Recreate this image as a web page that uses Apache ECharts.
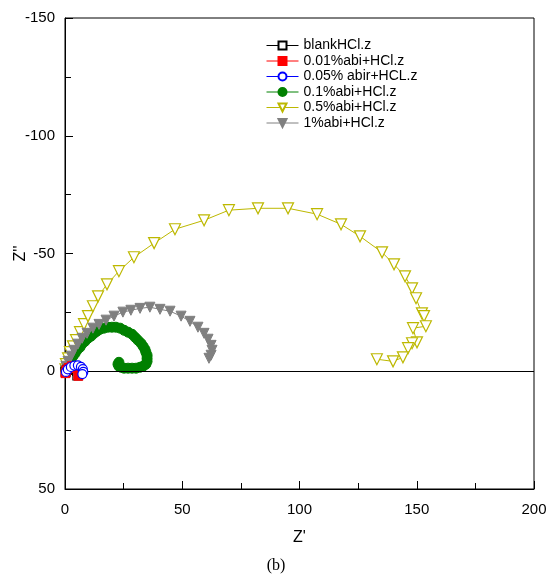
<!DOCTYPE html>
<html>
<head>
<meta charset="utf-8">
<script src="https://cdn.jsdelivr.net/npm/echarts@6/dist/echarts.min.js"></script>
<style>
  html, body { margin: 0; padding: 0; background: #fff; }
  #chart { width: 552px; height: 575px; }
</style>
</head>
<body>
<div id="chart"></div>
<script>
// Nyquist data, [Z', Z''] (Z'' negative = capacitive, drawn upward)
const blankHCl = [[0.3, 0.2], [1.0, -0.6], [2.0, -1.1], [3.2, -1.3], [4.3, -0.9], [5.2, -0.1], [5.6, 0.9], [5.3, 1.8]]
const abi001 = [[0.2, 0.8], [0.6, -0.4], [1.6, -1.4], [2.9, -2.1], [4.2, -2.2], [5.3, -1.5], [6.0, -0.4], [6.1, 0.8], [5.7, 1.9]]
const abi005 = [[0.4, 0.3], [1.2, -0.8], [2.5, -1.8], [4.0, -2.4], [5.5, -2.5], [6.8, -1.9], [7.6, -0.9], [7.8, 0.3], [7.4, 1.2]]
const abi01 = [
  [0.2, -0.8], [0.4, -1.7], [0.9, -2.5], [1.7, -3.8], [2.6, -5.1], [3.4, -6.4], [4.3, -7.6], [5.1, -8.9],
  [6.4, -10.2], [7.2, -11.5], [8.5, -12.7], [9.8, -14.0], [11.1, -14.9], [12.4, -16.1], [13.6, -17.0],
  [14.9, -17.8], [16.6, -18.3], [18.3, -18.7], [20.0, -18.7], [21.7, -18.7], [23.5, -18.3], [25.2, -17.4],
  [26.9, -16.6], [28.6, -15.7], [29.9, -14.4], [31.1, -13.2], [32.4, -11.9], [33.3, -10.6], [34.1, -9.3],
  [34.5, -8.1], [35.0, -6.8], [35.0, -5.5], [35.0, -4.2], [34.5, -3.0], [33.3, -2.1], [32.0, -1.7],
  [30.3, -1.3], [28.6, -1.3], [26.9, -1.3], [25.2, -1.3], [23.9, -1.7], [23.0, -2.1], [22.6, -3.0], [23.0, -3.8]
]
const abi05 = [
  [0.2, -0.8], [0.4, -3.0], [1.3, -5.5], [2.1, -8.1], [3.4, -10.6], [4.7, -13.2], [6.4, -16.6], [8.1, -20.0],
  [9.8, -23.4], [11.9, -27.6], [14.1, -31.8], [17.9, -36.9], [23.0, -42.5], [29.4, -48.4], [38.0, -54.4],
  [46.9, -60.3], [59.3, -64.1], [69.9, -68.4], [82.3, -69.2], [95.1, -69.2], [107.5, -66.7], [117.7, -62.4],
  [125.8, -57.3], [135.2, -50.5], [140.3, -45.4], [145.0, -40.3], [148.0, -35.2], [149.7, -31.0], [152.2, -24.6],
  [153.1, -23.4], [153.9, -19.1], [148.4, -18.3], [150.1, -12.3], [148.0, -11.9], [146.3, -9.8], [144.1, -5.9],
  [139.9, -4.2], [133.0, -5.1]
]
const abi1 = [
  [0.3, -0.4], [0.4, -2.1], [1.3, -4.2], [2.6, -6.4], [3.8, -8.9], [5.5, -11.5], [7.3, -14.0], [9.4, -16.1],
  [11.9, -18.3], [14.5, -19.9], [17.5, -21.7], [20.9, -23.4], [24.7, -25.1], [28.1, -25.9], [32.0, -26.7],
  [36.2, -27.2], [40.5, -26.3], [44.8, -25.5], [49.5, -23.4], [53.3, -21.2], [56.7, -18.7], [59.3, -16.1],
  [61.0, -13.6], [62.3, -11.0], [62.7, -8.9], [62.3, -6.8], [61.4, -5.5]
]

const xTicks = { min: 0, max: 200, interval: 50 }
const yTicks = { min: -150, max: 50, interval: 50 }

const FONT = '"Liberation Sans", Arial, sans-serif'

function mkSeries(name, data, symbol, size, color, filled, extra) {
  return Object.assign({
    name, type: 'line', data,
    symbol, symbolSize: size,
    showAllSymbol: true,
    lineStyle: { color, width: 1 },
    itemStyle: filled
      ? { color, borderColor: color, borderWidth: 1 }
      : { color: '#fff', borderColor: color, borderWidth: 1.2 },
    emphasis: { disabled: true },
  }, extra || {})
}

const chart = echarts.init(document.getElementById('chart'), null, { renderer: 'canvas' })
chart.setOption({
  animation: false,
  backgroundColor: '#fff',
  textStyle: { fontFamily: FONT },
  grid: {
    left: 65, right: 18, top: 18, bottom: 86,
    outerBoundsMode: 'none', containLabel: false,
    show: true, borderColor: '#000', borderWidth: 1, backgroundColor: 'transparent',
  },
  legend: {
    orient: 'vertical', left: 261, top: 33,
    itemWidth: 32, itemHeight: 10, itemGap: 0.5,
    lineStyle: { width: 1 },
    textStyle: { fontFamily: FONT, fontSize: 14, color: '#000', lineHeight: 15 },
    data: ['blankHCl.z', '0.01%abi+HCl.z', '0.05% abir+HCL.z', '0.1%abi+HCl.z', '0.5%abi+HCl.z', '1%abi+HCl.z'],
  },
  xAxis: {
    type: 'value', ...xTicks,
    name: "Z'", nameLocation: 'middle', nameGap: 41,
    nameTextStyle: { fontFamily: FONT, fontSize: 16, color: '#000' },
    axisLine: { onZero: false, lineStyle: { color: '#000', width: 1 } },
    axisTick: { inside: true, length: 8, lineStyle: { color: '#000' } },
    minorTick: { show: true, splitNumber: 2, length: 6, lineStyle: { color: '#000' } },
    axisLabel: { fontFamily: FONT, fontSize: 15, color: '#000', margin: 13 },
    splitLine: { show: false },
  },
  yAxis: {
    type: 'value', ...yTicks, inverse: true,
    name: "Z''", nameLocation: 'middle', nameGap: 36, nameRotate: 90, nameMoveOverlap: false,
    nameTextStyle: { fontFamily: FONT, fontSize: 16, color: '#000' },
    axisLine: { onZero: false, lineStyle: { color: '#000', width: 1 } },
    axisTick: { inside: true, length: 8, lineStyle: { color: '#000' } },
    minorTick: { show: true, splitNumber: 2, length: 6, lineStyle: { color: '#000' } },
    axisLabel: { fontFamily: FONT, fontSize: 15, color: '#000', margin: 10 },
    splitLine: { show: false },
  },
  graphic: [{
    type: 'text', left: 'center', top: 558,
    style: { text: '(b)', font: '16px "Liberation Serif", "Times New Roman", serif', fill: '#000' },
  }],
  series: [
    mkSeries('0.1%abi+HCl.z', abi01, 'circle', 10, '#008000', true, { z: 2 }),
    mkSeries('0.5%abi+HCl.z', abi05, 'triangle', 11, '#bdb800', false, {
      symbolRotate: 180, z: 3,
      markLine: {
        silent: true, symbol: 'none', label: { show: false },
        lineStyle: { color: '#000', width: 1, type: 'solid' },
        data: [{ yAxis: 0 }],
      },
    }),
    mkSeries('1%abi+HCl.z', abi1, 'triangle', 10, '#808080', true, { symbolRotate: 180, z: 4 }),
    mkSeries('blankHCl.z', blankHCl, 'rect', 9, '#000', false, { z: 5 }),
    mkSeries('0.01%abi+HCl.z', abi001, 'rect', 9, '#ff0000', true, { z: 5 }),
    mkSeries('0.05% abir+HCL.z', abi005, 'circle', 9, '#0000ff', false, { z: 5 }),
  ],
})
</script>
</body>
</html>
